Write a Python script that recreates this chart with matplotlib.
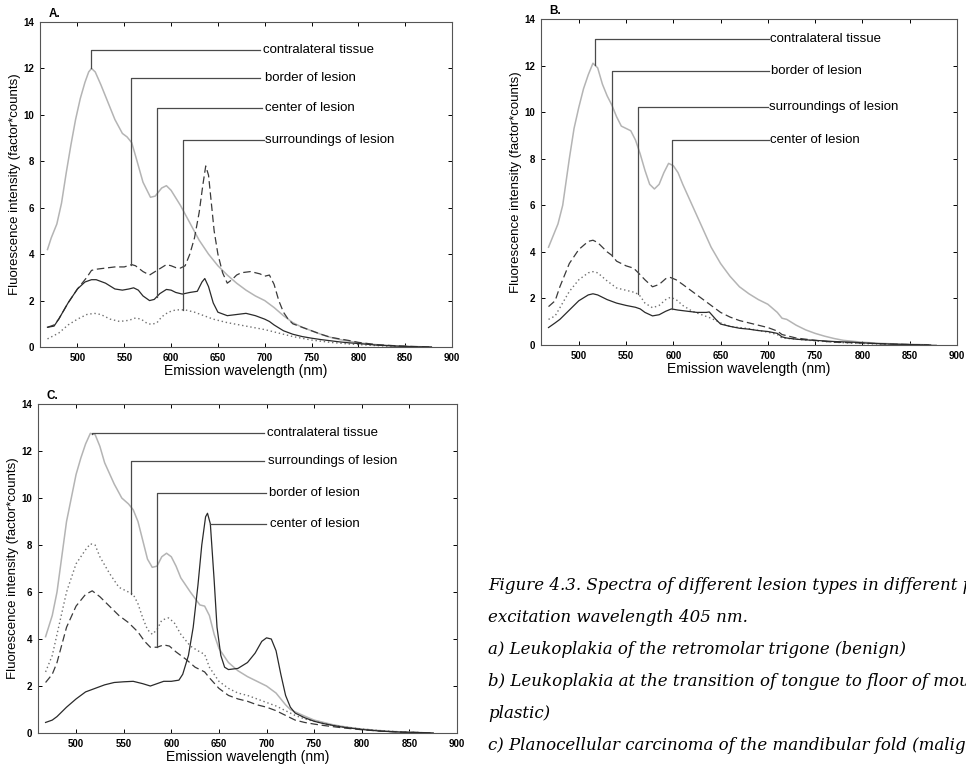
import numpy as np
import matplotlib
matplotlib.use("Agg")
import matplotlib.pyplot as plt

plt.rcParams['font.family'] = ['Liberation Sans', 'DejaVu Sans']

# ---- Panel A: Leukoplakia of the retromolar trigone (benign)
a_contra_x = [468, 472, 478, 483, 488, 493, 498, 503, 508, 512, 515, 519, 525, 530, 540, 548, 553, 558, 563, 570,
              578, 583, 590, 595, 600, 610, 620, 630, 640, 650, 660, 670, 680, 690, 700, 710, 720, 730, 740, 750,
              760, 770, 780, 790, 800, 820, 840, 860, 878]
a_contra_y = [4.2, 4.7, 5.3, 6.2, 7.5, 8.7, 9.8, 10.7, 11.4, 11.85, 12.0, 11.85, 11.3, 10.8, 9.8, 9.2, 9.05, 8.8, 8.1, 7.1,
              6.45, 6.5, 6.85, 6.95, 6.75, 6.1, 5.35, 4.6, 4.0, 3.5, 3.1, 2.75, 2.45, 2.2, 2.0, 1.7, 1.35, 1.05, 0.85, 0.7,
              0.55, 0.42, 0.32, 0.25, 0.18, 0.1, 0.05, 0.02, 0.0]
a_border_x = [468, 475, 480, 490, 500, 510, 515, 520, 530, 540, 550, 558, 562, 570, 577, 585, 595, 600, 605, 610,
              615, 620, 625, 630, 634, 637, 640, 643, 646, 650, 655, 660, 665, 670, 675, 685, 695, 700, 705, 710,
              715, 720, 725, 730, 740, 750, 760, 770, 780, 790, 800, 820, 840, 860, 878]
a_border_y = [0.85, 0.95, 1.2, 1.9, 2.5, 3.0, 3.3, 3.35, 3.4, 3.45, 3.45, 3.55, 3.5, 3.25, 3.1, 3.3, 3.55, 3.5, 3.42, 3.4,
              3.5, 4.0, 4.7, 5.8, 7.0, 7.8, 7.4, 6.2, 5.0, 4.0, 3.2, 2.75, 2.9, 3.1, 3.2, 3.25, 3.15, 3.05, 3.1, 2.7,
              2.0, 1.5, 1.2, 1.0, 0.85, 0.7, 0.55, 0.42, 0.35, 0.28, 0.2, 0.1, 0.05, 0.02, 0.0]
a_center_x = [468, 475, 480, 490, 500, 508, 515, 520, 530, 540, 548, 555, 560, 565, 570, 577, 582, 588, 595, 600,
              605, 612, 620, 628, 633, 636, 640, 645, 650, 660, 670, 680, 690, 700, 705, 710, 720, 730, 740, 750,
              760, 770, 780, 790, 800, 820, 840, 860, 878]
a_center_y = [0.85, 0.9, 1.2, 1.9, 2.5, 2.8, 2.9, 2.9, 2.75, 2.5, 2.45, 2.5, 2.55, 2.45, 2.2, 2.0, 2.05, 2.3, 2.48, 2.45,
              2.35, 2.28, 2.35, 2.4, 2.8, 2.95, 2.6, 1.9, 1.5, 1.35, 1.4, 1.45, 1.35, 1.2, 1.1, 0.95, 0.7, 0.55, 0.45, 0.38,
              0.32, 0.27, 0.22, 0.18, 0.15, 0.08, 0.04, 0.01, 0.0]
a_surr_x = [468, 480, 490, 500, 510, 518, 525, 535, 545, 555, 562, 568, 575, 580, 585, 590, 597, 605, 615, 625,
            635, 645, 660, 680, 700, 715, 730, 750, 770, 790, 810, 830, 850, 870]
a_surr_y = [0.35, 0.6, 0.95, 1.2, 1.4, 1.45, 1.4, 1.2, 1.1, 1.15, 1.25, 1.2, 1.0, 0.98, 1.05, 1.3, 1.5, 1.6, 1.6, 1.5,
            1.35, 1.2, 1.05, 0.9, 0.75, 0.6, 0.45, 0.3, 0.2, 0.13, 0.08, 0.04, 0.02, 0.0]

# ---- Panel B: Leukoplakia at the transition of tongue to floor of mouth
b_contra_x = [468, 472, 478, 483, 490, 495, 500, 505, 510, 515, 520, 525, 530, 535, 540, 545, 550, 555, 560, 565,
              570, 575, 580, 585, 590, 595, 600, 605, 610, 620, 630, 640, 650, 660, 670, 680, 690, 700, 710, 715,
              720, 730, 740, 750, 760, 770, 780, 800, 820, 840, 860, 878]
b_contra_y = [4.2, 4.6, 5.2, 6.0, 8.0, 9.3, 10.2, 11.0, 11.6, 12.1, 11.9, 11.2, 10.7, 10.3, 9.8, 9.4, 9.3, 9.2, 8.8, 8.2,
              7.5, 6.9, 6.7, 6.9, 7.4, 7.8, 7.7, 7.4, 6.9, 6.0, 5.1, 4.2, 3.5, 2.95, 2.5, 2.2, 1.95, 1.75, 1.4, 1.15,
              1.1, 0.85, 0.65, 0.5, 0.38, 0.28, 0.2, 0.12, 0.07, 0.04, 0.02, 0.0]
b_border_x = [468, 475, 480, 490, 500, 510, 515, 520, 530, 535, 540, 550, 558, 563, 570, 578, 585, 592, 597, 603,
              610, 620, 630, 640, 650, 660, 670, 680, 690, 700, 710, 715, 720, 730, 740, 750, 770, 790, 810, 830,
              850, 875]
b_border_y = [1.65, 1.9, 2.5, 3.5, 4.1, 4.45, 4.5, 4.4, 4.0, 3.85, 3.6, 3.4, 3.3, 3.1, 2.8, 2.5, 2.6, 2.85, 2.9, 2.8,
              2.6, 2.3, 2.0, 1.7, 1.4, 1.2, 1.05, 0.95, 0.85, 0.75, 0.6, 0.45, 0.4, 0.3, 0.25, 0.2, 0.12, 0.1, 0.07, 0.04,
              0.02, 0.0]
b_surr_x = [468, 475, 480, 490, 500, 510, 515, 520, 530, 540, 550, 560, 565, 570, 578, 585, 592, 597, 603, 610,
            620, 630, 640, 650, 660, 680, 700, 710, 715, 730, 750, 770, 790, 810, 840, 870]
b_surr_y = [1.1, 1.25, 1.6, 2.3, 2.8, 3.1, 3.15, 3.1, 2.75, 2.45, 2.35, 2.25, 2.1, 1.8, 1.6, 1.7, 1.95, 2.05, 1.95, 1.7,
            1.45, 1.3, 1.15, 0.95, 0.8, 0.7, 0.55, 0.45, 0.3, 0.25, 0.18, 0.12, 0.08, 0.05, 0.02, 0.0]
b_center_x = [468, 475, 480, 490, 500, 510, 515, 520, 530, 540, 550, 560, 565, 570, 578, 585, 592, 598, 605, 615,
              625, 635, 638, 645, 650, 660, 670, 680, 690, 700, 710, 715, 720, 730, 740, 750, 770, 790, 810, 830,
              850, 870]
b_center_y = [0.75, 0.95, 1.1, 1.5, 1.9, 2.15, 2.2, 2.15, 1.95, 1.8, 1.7, 1.62, 1.55, 1.4, 1.25, 1.3, 1.45, 1.55, 1.5, 1.45,
              1.4, 1.4, 1.42, 1.1, 0.9, 0.8, 0.72, 0.68, 0.62, 0.58, 0.5, 0.35, 0.3, 0.25, 0.22, 0.2, 0.15, 0.12, 0.07, 0.04,
              0.02, 0.0]

# ---- Panel C: Planocellular carcinoma of the mandibular fold
c_contra_x = [468, 475, 480, 490, 500, 505, 510, 515, 520, 525, 530, 540, 548, 555, 560, 565, 570, 575, 580, 585,
              590, 595, 600, 605, 610, 620, 630, 635, 640, 645, 650, 660, 670, 680, 690, 700, 710, 720, 725, 730,
              740, 750, 760, 770, 780, 790, 800, 820, 840, 860, 875]
c_contra_y = [4.1, 5.0, 6.0, 9.0, 11.0, 11.7, 12.3, 12.75, 12.7, 12.2, 11.5, 10.6, 10.0, 9.75, 9.5, 9.0, 8.2, 7.4, 7.05, 7.1,
              7.5, 7.65, 7.5, 7.1, 6.6, 6.0, 5.45, 5.4, 5.0, 4.2, 3.6, 3.0, 2.65, 2.4, 2.2, 2.0, 1.7, 1.2, 1.0, 0.9,
              0.72, 0.55, 0.45, 0.35, 0.28, 0.22, 0.17, 0.1, 0.05, 0.02, 0.0]
c_surr_x = [468, 475, 480, 490, 500, 510, 515, 520, 525, 535, 545, 555, 560, 565, 570, 575, 580, 585, 590, 597,
            603, 610, 620, 630, 635, 640, 650, 660, 670, 680, 690, 700, 710, 720, 730, 740, 750, 760, 770, 780,
            790, 800, 820, 840, 860, 875]
c_surr_y = [2.6, 3.3, 4.2, 6.0, 7.2, 7.8, 8.05, 8.0, 7.5, 6.8, 6.2, 6.0, 5.9, 5.5, 4.9, 4.4, 4.2, 4.4, 4.8, 4.9,
            4.7, 4.2, 3.7, 3.45, 3.35, 2.8, 2.2, 1.9, 1.7, 1.6, 1.45, 1.3, 1.15, 0.95, 0.75, 0.6, 0.5, 0.4, 0.33, 0.27,
            0.22, 0.17, 0.1, 0.05, 0.02, 0.0]
c_border_x = [468, 475, 480, 490, 500, 510, 517, 525, 535, 545, 555, 565, 572, 578, 585, 592, 598, 605, 615, 625,
              635, 640, 650, 660, 670, 680, 690, 700, 710, 720, 730, 740, 750, 760, 770, 780, 790, 800, 820, 840,
              860, 875]
c_border_y = [2.15, 2.5, 3.0, 4.5, 5.4, 5.9, 6.05, 5.8, 5.4, 5.0, 4.7, 4.3, 3.9, 3.65, 3.65, 3.75, 3.7, 3.45, 3.15, 2.8,
              2.6, 2.35, 1.9, 1.6, 1.45, 1.35, 1.2, 1.1, 0.95, 0.75, 0.55, 0.45, 0.38, 0.32, 0.27, 0.22, 0.18, 0.14, 0.08, 0.04,
              0.02, 0.0]
c_center_x = [468, 475, 480, 490, 500, 510, 520, 530, 540, 550, 560, 565, 570, 578, 585, 592, 600, 608, 612, 618,
              623, 628, 632, 636, 638, 641, 645, 648, 652, 656, 660, 670, 680, 688, 695, 700, 705, 710, 715, 720,
              725, 730, 740, 750, 760, 770, 780, 790, 800, 820, 840, 860, 875]
c_center_y = [0.45, 0.55, 0.7, 1.1, 1.45, 1.75, 1.9, 2.05, 2.15, 2.18, 2.2, 2.15, 2.1, 2.0, 2.1, 2.2, 2.2, 2.25, 2.5, 3.3,
              4.5, 6.3, 8.0, 9.2, 9.35, 8.9, 6.5, 4.5, 3.3, 2.8, 2.7, 2.75, 3.0, 3.4, 3.9, 4.05, 4.0, 3.5, 2.5, 1.6,
              1.1, 0.85, 0.65, 0.5, 0.4, 0.32, 0.25, 0.2, 0.15, 0.08, 0.04, 0.02, 0.0]

caption = ["Figure 4.3. Spectra of different lesion types in different patients at",
           "excitation wavelength 405 nm.",
           "a) Leukoplakia of the retromolar trigone (benign)",
           "b) Leukoplakia at the transition of tongue to floor of mouth (dys-",
           "plastic)",
           "c) Planocellular carcinoma of the mandibular fold (malignant)"]

styles = {
    'contra': dict(color='#b4b4b4', ls='-', lw=1.1),
    'center': dict(color='#2a2a2a', ls='-', lw=0.9),
    'border': dict(color='#3a3a3a', ls=(0, (6, 3)), lw=0.9),
    'surr': dict(color='#707070', ls=(0, (1, 2)), lw=1.0),
}
names = {'contra': 'contralateral tissue', 'center': 'center of lesion',
         'border': 'border of lesion', 'surr': 'surroundings of lesion'}


def draw_panel(ax, curves, notes, letter):
    for key in ['contra', 'surr', 'border', 'center']:
        x, y = curves[key]
        ax.plot(x, y, **styles[key])
    # leader lines: (key, wavelength on curve, label height, line end, text start)
    for key, xa, level, xend, xt in notes:
        x, y = curves[key]
        ya = np.interp(xa, x, y)
        ax.plot([xa, xa, xend], [ya, level, level], color='#4a4a4a', lw=0.9)
        ax.text(xt, level, names[key], fontsize=9.5, va='center', ha='left')
    ax.set_xlim(460, 900)
    ax.set_ylim(0, 14)
    ax.set_xticks(np.arange(500, 901, 50))
    ax.set_yticks(np.arange(0, 15, 2))
    ax.tick_params(direction='in', top=True, right=True, length=3, width=0.7, labelsize=7, pad=4)
    for lab in ax.get_xticklabels() + ax.get_yticklabels():
        lab.set_fontweight('bold')
    for s in ax.spines.values():
        s.set_linewidth(0.8)
        s.set_color('#555555')
    ax.set_xlabel('Emission wavelength (nm)', fontsize=10, labelpad=1)
    ax.set_ylabel('Fluorescence intensity (factor*counts)', fontsize=9.5, labelpad=2)
    ax.text(0.02, 1.025, letter, transform=ax.transAxes, fontsize=8.5, fontweight='bold', va='center')


fig = plt.figure(figsize=(9.66, 7.65), dpi=100)
ax_a = fig.add_axes([0.0414, 0.5464, 0.4265, 0.4248])
ax_b = fig.add_axes([0.560, 0.549, 0.4306, 0.4262])
ax_c = fig.add_axes([0.0393, 0.0418, 0.4338, 0.4301])

draw_panel(ax_a,
           {'contra': (a_contra_x, a_contra_y), 'border': (a_border_x, a_border_y),
            'center': (a_center_x, a_center_y), 'surr': (a_surr_x, a_surr_y)},
           [('contra', 515, 12.78, 695, 698.5),
            ('border', 557.7, 11.59, 695, 700.5),
            ('center', 584.7, 10.29, 697, 700.5),
            ('surr', 612.5, 8.93, 699, 700.5)], 'A.')
draw_panel(ax_b,
           {'contra': (b_contra_x, b_contra_y), 'border': (b_border_x, b_border_y),
            'center': (b_center_x, b_center_y), 'surr': (b_surr_x, b_surr_y)},
           [('contra', 517, 13.14, 700.7, 702.5),
            ('border', 535.3, 11.75, 701, 703),
            ('surr', 562.2, 10.24, 700, 701.4),
            ('center', 599, 8.81, 701, 702.5)], 'B.')
draw_panel(ax_c,
           {'contra': (c_contra_x, c_contra_y), 'border': (c_border_x, c_border_y),
            'center': (c_center_x, c_center_y), 'surr': (c_surr_x, c_surr_y)},
           [('contra', 516.3, 12.77, 697, 700.7),
            ('surr', 558.2, 11.56, 697, 701.4),
            ('border', 585, 10.21, 699, 703),
            ('center', 641, 8.89, 699, 704)], 'C.')

for i, line in enumerate(caption):
    fig.text(488 / 966, 1 - (585 + i * 32.2) / 765, line, fontsize=12, style='italic',
             family='DejaVu Serif', va='center', ha='left')

fig.savefig('out.png', dpi=100)
